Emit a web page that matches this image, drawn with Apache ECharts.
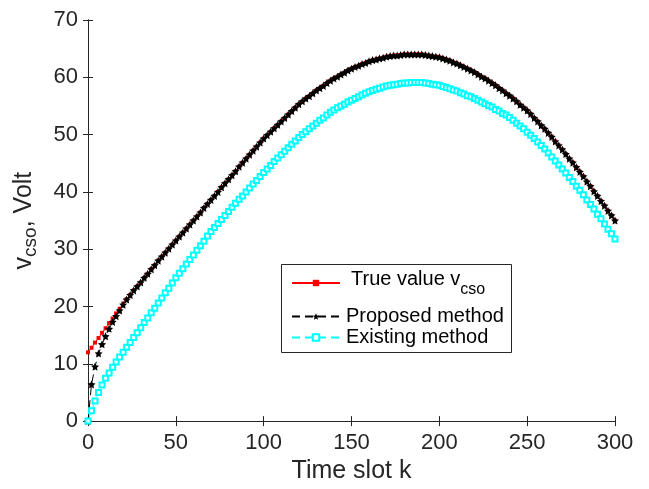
<!DOCTYPE html>
<html>
<head>
<meta charset="utf-8">
<script src="https://cdn.jsdelivr.net/npm/echarts@6/dist/echarts.min.js"></script>
<style>
html,body{margin:0;padding:0;background:#fff;}
#chart{width:649px;height:489px;}
</style>
</head>
<body>
<div id="chart"></div>
<script>
// Time slots k = 0, 2, 4, ..., 300
const timeSlots = Array.from({length: 151}, (_, i) => i * 2);

const trueValue = [
12.0,12.8,13.7,14.5,15.4,16.2,
17.1,17.9,18.8,19.6,20.5,
21.3,22.0,22.8,23.5,24.2,
25.0,25.7,26.5,27.2,28.0,
28.7,29.4,30.1,30.8,31.5,
32.2,32.9,33.6,34.3,35.0,
35.7,36.4,37.2,37.9,38.6,
39.3,40.0,40.8,41.5,42.2,
42.9,43.6,44.4,45.1,45.8,
46.5,47.2,47.9,48.6,49.3,
49.9,50.5,51.1,51.7,52.3,
52.9,53.5,54.1,54.7,55.3,
55.8,56.3,56.7,57.2,57.7,
58.1,58.5,59.0,59.4,59.8,
60.1,60.5,60.8,61.2,61.5,
61.8,62.0,62.3,62.5,62.8,
63.0,63.1,63.3,63.4,63.6,
63.7,63.8,63.8,63.9,64.0,
64.0,64.0,64.0,64.0,64.0,
63.9,63.8,63.7,63.6,63.5,
63.3,63.1,62.9,62.6,62.4,
62.1,61.8,61.5,61.2,60.9,
60.5,60.1,59.8,59.4,59.0,
58.6,58.1,57.7,57.2,56.8,
56.3,55.8,55.2,54.7,54.2,
53.6,52.9,52.3,51.6,51.0,
50.3,49.6,48.8,48.1,47.4,
46.6,45.8,45.1,44.3,43.5,
42.7,41.8,41.0,40.1,39.3,
38.4,37.6,36.7,35.9,35.0
];

const proposed = [
0.0,6.4,9.5,11.8,13.4,14.8,
16.1,17.3,18.3,19.3,20.3,
21.2,22.0,22.8,23.5,24.2,
25.0,25.7,26.5,27.2,28.0,
28.7,29.4,30.1,30.8,31.5,
32.2,32.9,33.6,34.3,35.0,
35.7,36.4,37.2,37.9,38.6,
39.3,40.0,40.8,41.5,42.2,
42.9,43.6,44.4,45.1,45.8,
46.5,47.2,47.9,48.6,49.3,
49.9,50.5,51.1,51.7,52.3,
52.9,53.5,54.1,54.7,55.3,
55.8,56.3,56.7,57.2,57.7,
58.1,58.5,59.0,59.4,59.8,
60.1,60.5,60.8,61.2,61.5,
61.8,62.0,62.3,62.5,62.8,
63.0,63.1,63.3,63.4,63.6,
63.7,63.8,63.8,63.9,64.0,
64.0,64.0,64.0,64.0,64.0,
63.9,63.8,63.7,63.6,63.5,
63.3,63.1,62.9,62.6,62.4,
62.1,61.8,61.5,61.2,60.9,
60.5,60.1,59.8,59.4,59.0,
58.6,58.1,57.7,57.2,56.8,
56.3,55.8,55.2,54.7,54.2,
53.6,52.9,52.3,51.6,51.0,
50.3,49.6,48.8,48.1,47.4,
46.6,45.8,45.1,44.3,43.5,
42.7,41.8,41.0,40.1,39.3,
38.4,37.6,36.7,35.9,35.0
];

const existing = [
0.0,1.8,3.5,5.0,6.3,7.5,
8.4,9.4,10.3,11.2,12.0,
12.9,13.7,14.6,15.4,16.3,
17.2,18.0,18.9,19.7,20.6,
21.5,22.4,23.2,24.1,25.0,
25.8,26.6,27.4,28.2,29.0,
29.8,30.6,31.4,32.3,33.1,
33.8,34.5,35.2,35.9,36.6,
37.3,38.0,38.7,39.3,40.0,
40.7,41.4,42.0,42.7,43.4,
44.0,44.6,45.3,45.9,46.5,
47.1,47.7,48.3,48.9,49.5,
50.0,50.5,51.0,51.5,52.0,
52.5,52.9,53.4,53.9,54.3,
54.7,55.0,55.3,55.7,56.0,
56.3,56.6,56.9,57.2,57.5,
57.7,57.9,58.1,58.3,58.5,
58.6,58.7,58.8,58.9,59.0,
59.0,59.1,59.1,59.1,59.1,
59.0,58.9,58.8,58.7,58.6,
58.4,58.2,58.0,57.8,57.6,
57.3,57.1,56.8,56.6,56.3,
56.0,55.7,55.4,55.1,54.8,
54.4,54.1,53.7,53.4,53.0,
52.5,52.0,51.5,51.0,50.4,
49.9,49.3,48.7,48.1,47.5,
46.8,46.1,45.4,44.7,44.0,
43.3,42.5,41.8,41.0,40.3,
39.5,38.6,37.8,37.0,36.1,
35.3,34.4,33.5,32.7,31.8
];

const xTicks = [0, 50, 100, 150, 200, 250, 300];
const yTicks = [0, 10, 20, 30, 40, 50, 60, 70];
const seriesNames = ['True value', 'Proposed method', 'Existing method'];

const pairs = (vals) => timeSlots.map((k, i) => [k, vals[i]]);

const FONT = 'Liberation Sans, Arial, Helvetica, sans-serif';
const AX = '#262626';
const STAR = 'path://M0,-10 L2.9,-4 L9.5,-3.1 L4.7,1.5 L5.9,8.1 L0,5 L-5.9,8.1 L-4.7,1.5 L-9.5,-3.1 L-2.9,-4 Z';

const chart = echarts.init(document.getElementById('chart'), null, {renderer: 'canvas'});

const baseAxis = {
  axisLine: {show: true, lineStyle: {color: AX, width: 1}},
  axisTick: {show: true, inside: true, length: 5, lineStyle: {color: AX}},
  splitLine: {show: false}
};

chart.setOption({
  animation: false,
  backgroundColor: '#ffffff',
  textStyle: {fontFamily: FONT},
  grid: {left: 88, right: 34, top: 20, bottom: 63, containLabel: false},
  graphic: [{
    type: 'rect', z: 3,
    shape: {x: 281.5, y: 264.5, width: 230, height: 88},
    style: {fill: '#ffffff', stroke: AX, lineWidth: 1}
  }],
  xAxis: [
    Object.assign({}, baseAxis, {
      type: 'value', min: 0, max: 300, interval: 50, position: 'bottom',
      axisLabel: {color: AX, fontSize: 22, fontFamily: FONT, margin: 11,
        formatter: (v) => xTicks.includes(v) ? String(v) : ''},
      name: 'Time slot k', nameLocation: 'middle', nameGap: 31,
      nameTextStyle: {color: AX, fontSize: 25, fontFamily: FONT}
    }),
    Object.assign({}, baseAxis, {
      type: 'value', min: 0, max: 300, interval: 50, position: 'top',
      axisLabel: {show: false}
    })
  ],
  yAxis: [
    Object.assign({}, baseAxis, {
      type: 'value', min: 0, max: 70, interval: 10, position: 'left',
      axisLabel: {color: AX, fontSize: 22, fontFamily: FONT, margin: 10,
        formatter: (v) => yTicks.includes(v) ? String(v) : ''},
      name: '{a|v}{s|cso}{a|, Volt}', nameLocation: 'middle', nameGap: 48,
      nameTextStyle: {
        color: AX, fontFamily: FONT,
        rich: {
          a: {fontSize: 25, color: AX, fontFamily: FONT},
          s: {fontSize: 19, color: AX, fontFamily: FONT, padding: [12, 0, 0, 0]}
        }
      }
    }),
    Object.assign({}, baseAxis, {
      type: 'value', min: 0, max: 70, interval: 10, position: 'right',
      axisLabel: {show: false}
    })
  ],
  legend: [
    {
      orient: 'vertical', left: 291, top: 269, padding: 0,
      itemWidth: 48, itemHeight: 8, z: 5,
      data: [seriesNames[0]],
      textStyle: {color: '#000', fontSize: 20, fontFamily: FONT, padding: [0, 0, 0, 6],
        rich: {
          n: {fontSize: 20, color: '#000', fontFamily: FONT, padding: [0, 0, 8, 0]},
          s: {fontSize: 16, color: '#000', fontFamily: FONT, padding: [14, 0, 0, 0]}
        }
      },
      formatter: () => '{n|True value v}{s|cso}'
    },
    {
      orient: 'vertical', left: 291, top: 306, padding: 0, itemGap: 0,
      itemWidth: 48, itemHeight: 8, z: 5,
      data: [seriesNames[1], seriesNames[2]],
      textStyle: {color: '#000', fontSize: 20, lineHeight: 21, fontFamily: FONT, padding: [0, 0, 0, 1]}
    }
  ],
  series: [
    {
      name: seriesNames[0], type: 'line', data: pairs(trueValue),
      color: '#ff0000', symbol: 'rect', symbolSize: 4,
      lineStyle: {color: '#ff0000', width: 1},
      itemStyle: {color: '#ff0000'}
    },
    {
      name: seriesNames[1], type: 'line', data: pairs(proposed),
      color: '#000000', symbol: STAR, symbolSize: 8,
      lineStyle: {color: '#000000', width: 1, type: [8, 5]},
      itemStyle: {color: '#000000'}
    },
    {
      name: seriesNames[2], type: 'line', data: pairs(existing),
      color: '#00ffff', symbol: 'emptyRect', symbolSize: 5,
      lineStyle: {color: '#00ffff', width: 1, type: [8, 5]},
      itemStyle: {color: '#00ffff', borderColor: '#00ffff', borderWidth: 1}
    }
  ]
});
</script>
</body>
</html>
